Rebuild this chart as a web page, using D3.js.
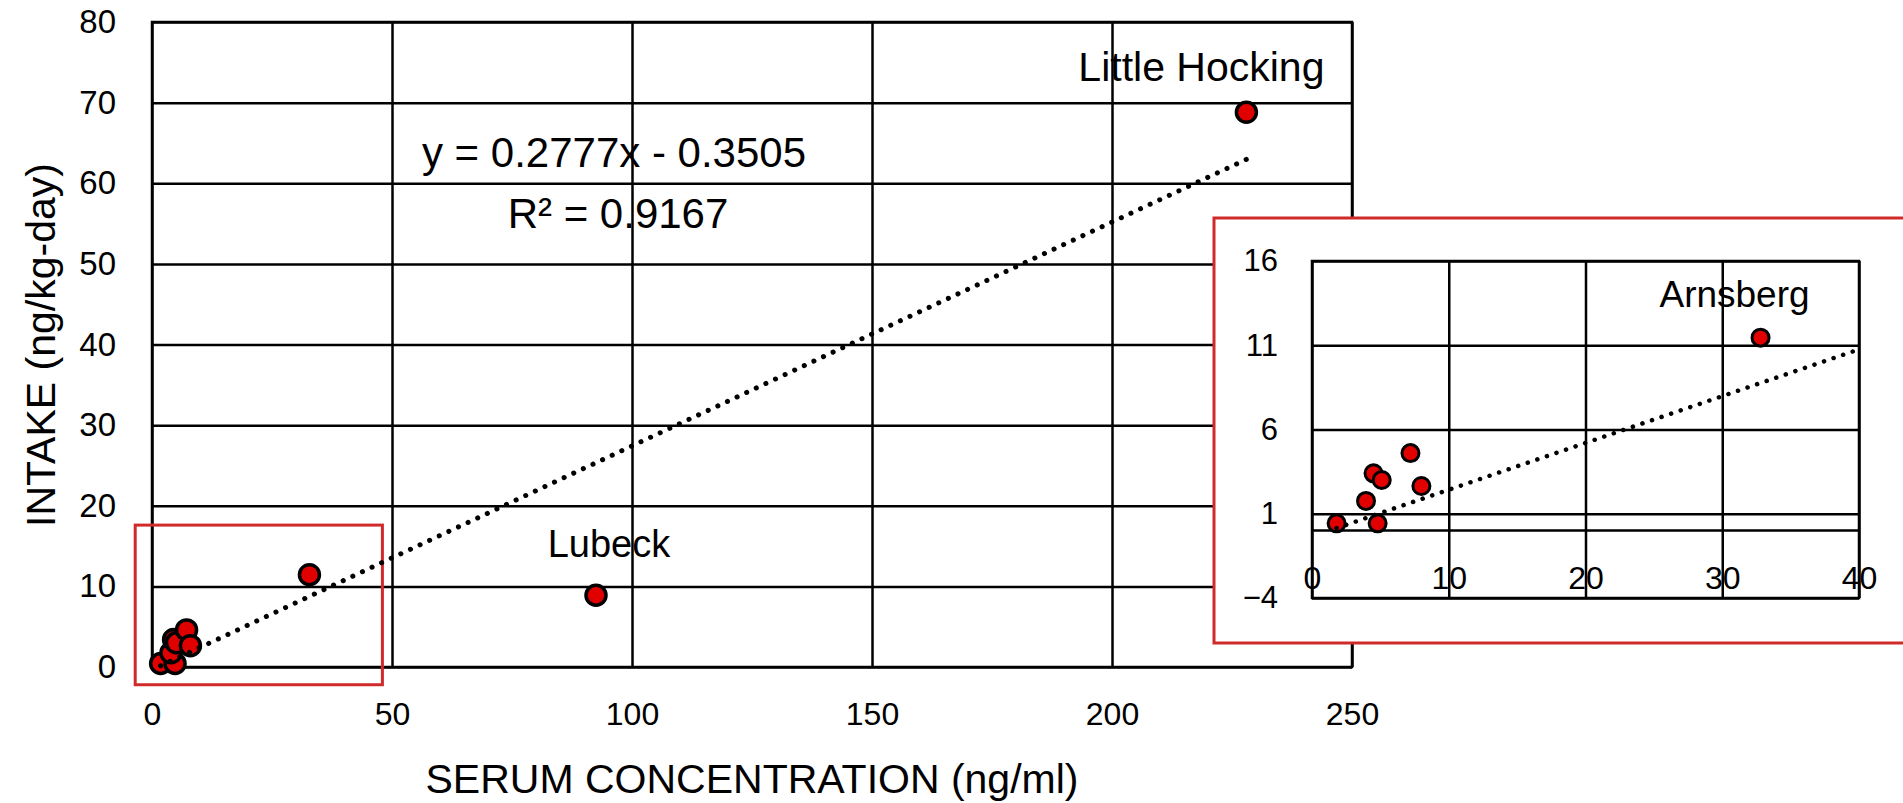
<!DOCTYPE html>
<html>
<head>
<meta charset="utf-8">
<script src="https://cdnjs.cloudflare.com/ajax/libs/d3/7.8.5/d3.min.js"></script>
<style>
	body { margin: 0; background: #fff; }
	svg text { font-family: "Liberation Sans", Arial, sans-serif; fill: #000; }
</style>
</head>
<body>
<div id="chart"></div>
<script>
// values
var serum = [1.8, 4.8, 3.95, 4.5, 5.1, 7.2, 8.0, 32.8, 92.5, 228];
var intake = [0.43, 0.43, 1.76, 3.4, 3.0, 4.6, 2.65, 11.45, 8.9, 68.8];
var sites = ["", "", "", "", "", "", "", "Arnsberg", "Lubeck", "Little Hocking"];
var slope = 0.2777, intercept = -0.3505, rSquared = 0.9167;

var mainXTicks = [0, 50, 100, 150, 200, 250];
var mainYTicks = [0, 10, 20, 30, 40, 50, 60, 70, 80];
var insetXTicks = [0, 10, 20, 30, 40];
var insetYTicks = [-4, 1, 6, 11, 16];

var mainNamed = ["Lubeck", "Little Hocking"];
var insetNamed = ["Arnsberg"];

// where the name sits relative to its dot (px)
var labelShift = {
	"Lubeck": [13, -38],
	"Little Hocking": [-45, -31],
	"Arnsberg": [-26, -31]
};

var points = serum.map(function (s, i) {
	return {x: s, y: intake[i], name: sites[i]};
});

var red = "#e00000";
var boxRed = "#d02a2a";

var svg = d3.select("#chart")
	.append("svg")
	.attr("width", 1903)
	.attr("height", 803);

function styleGrid(g, size) {
	g.select(".domain").remove();
	g.selectAll(".tick line")
		.attr("stroke", "#000")
		.attr("stroke-width", 2.5);
	g.selectAll(".tick text")
		.style("font-size", size + "px");
	g.attr("font-family", null).attr("font-size", null);
}

function trendPath(xs, x, y) {
	return d3.line()
		.x(function (d) { return x(d); })
		.y(function (d) { return y(slope * d + intercept); })(xs);
}

// ---------- main chart ----------
var margin = {top: 22, left: 152};
var width = 1200, height = 645;

var x = d3.scaleLinear().domain([0, 250]).range([0, width]);
var y = d3.scaleLinear().domain([0, 80]).range([height, 0]);

var main = svg.append("g")
	.attr("transform", "translate(" + margin.left + "," + margin.top + ")");

main.append("g")
	.call(d3.axisLeft(y).tickValues(mainYTicks).tickSize(-width).tickPadding(36))
	.call(styleGrid, 33);

main.append("g")
	.attr("transform", "translate(0," + height + ")")
	.call(d3.axisBottom(x).tickValues(mainXTicks).tickSize(-height).tickPadding(35))
	.call(styleGrid, 32);

main.append("rect")
	.attr("width", width)
	.attr("height", height)
	.attr("fill", "none")
	.attr("stroke", "#000")
	.attr("stroke-width", 2.5);

// red box marking the zoomed region
main.append("rect")
	.attr("x", x(-3.5))
	.attr("y", y(17.6))
	.attr("width", x(48) - x(-3.5))
	.attr("height", y(-2.2) - y(17.6))
	.attr("fill", "none")
	.attr("stroke", boxRed)
	.attr("stroke-width", 3);

main.selectAll("circle")
	.data(points)
	.enter()
	.append("circle")
	.attr("cx", function (d) { return x(d.x); })
	.attr("cy", function (d) { return y(d.y); })
	.attr("r", 10)
	.attr("fill", red)
	.attr("stroke", "#000")
	.attr("stroke-width", 3.5);

main.append("path")
	.attr("d", trendPath(d3.extent(serum), x, y))
	.attr("fill", "none")
	.attr("stroke", "#000")
	.attr("stroke-width", 5)
	.attr("stroke-linecap", "round")
	.attr("stroke-dasharray", "0.1 10.5");

main.selectAll(".site")
	.data(points.filter(function (d) { return mainNamed.indexOf(d.name) >= 0; }))
	.enter()
	.append("text")
	.attr("class", "site")
	.attr("x", function (d) { return x(d.x) + labelShift[d.name][0]; })
	.attr("y", function (d) { return y(d.y) + labelShift[d.name][1]; })
	.attr("text-anchor", "middle")
	.style("font-size", function (d) { return d.name === "Lubeck" ? "38px" : "41px"; })
	.text(function (d) { return d.name; });

main.append("text")
	.attr("x", 462)
	.attr("y", 145)
	.attr("text-anchor", "middle")
	.style("font-size", "42px")
	.text("y = " + slope + "x - " + Math.abs(intercept));

main.append("text")
	.attr("x", 466)
	.attr("y", 206)
	.attr("text-anchor", "middle")
	.style("font-size", "42px")
	.text("R² = " + rSquared);

// axis titles
svg.append("text")
	.attr("x", margin.left + width / 2)
	.attr("y", 793)
	.attr("text-anchor", "middle")
	.style("font-size", "41px")
	.text("SERUM CONCENTRATION (ng/ml)");

svg.append("text")
	.attr("transform", "translate(55,345) rotate(-90)")
	.attr("text-anchor", "middle")
	.style("font-size", "41px")
	.text("INTAKE (ng/kg-day)");

// ---------- inset ----------
svg.append("rect")
	.attr("x", 1214)
	.attr("y", 218)
	.attr("width", 760)
	.attr("height", 425)
	.attr("fill", "#fff")
	.attr("stroke", boxRed)
	.attr("stroke-width", 3);

var inMargin = {top: 261, left: 1312};
var inWidth = 547, inHeight = 337;

var xi = d3.scaleLinear().domain([0, 40]).range([0, inWidth]);
var yi = d3.scaleLinear().domain([-4, 16]).range([inHeight, 0]);

var inset = svg.append("g")
	.attr("transform", "translate(" + inMargin.left + "," + inMargin.top + ")");

inset.append("g")
	.call(d3.axisLeft(yi).tickValues(insetYTicks).tickSize(-inWidth).tickPadding(34))
	.call(styleGrid, 31);

inset.append("g")
	.attr("transform", "translate(0," + inHeight + ")")
	.call(d3.axisBottom(xi).tickValues(insetXTicks).tickSize(-inHeight).tickPadding(-32))
	.call(styleGrid, 32);

// horizontal axis line at zero
inset.append("line")
	.attr("x1", 0)
	.attr("x2", inWidth)
	.attr("y1", yi(0))
	.attr("y2", yi(0))
	.attr("stroke", "#000")
	.attr("stroke-width", 2.5);

inset.append("rect")
	.attr("width", inWidth)
	.attr("height", inHeight)
	.attr("fill", "none")
	.attr("stroke", "#000")
	.attr("stroke-width", 2.5);

var near = points.filter(function (d) { return d.x <= 40; });

inset.selectAll("circle")
	.data(near)
	.enter()
	.append("circle")
	.attr("cx", function (d) { return xi(d.x); })
	.attr("cy", function (d) { return yi(d.y); })
	.attr("r", 8.5)
	.attr("fill", red)
	.attr("stroke", "#000")
	.attr("stroke-width", 3);

inset.append("path")
	.attr("d", trendPath([d3.min(serum), 40], xi, yi))
	.attr("fill", "none")
	.attr("stroke", "#000")
	.attr("stroke-width", 4.5)
	.attr("stroke-linecap", "round")
	.attr("stroke-dasharray", "0.1 10");

inset.selectAll(".site")
	.data(near.filter(function (d) { return insetNamed.indexOf(d.name) >= 0; }))
	.enter()
	.append("text")
	.attr("class", "site")
	.attr("x", function (d) { return xi(d.x) + labelShift[d.name][0]; })
	.attr("y", function (d) { return yi(d.y) + labelShift[d.name][1]; })
	.attr("text-anchor", "middle")
	.style("font-size", "37px")
	.text(function (d) { return d.name; });
</script>
</body>
</html>
